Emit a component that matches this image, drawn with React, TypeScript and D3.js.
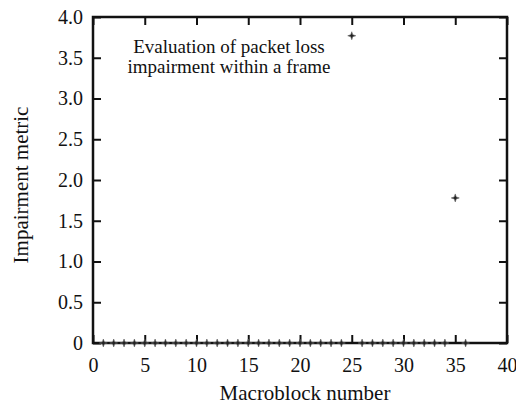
import { useEffect, useRef } from 'react'
import * as d3 from 'd3'

// macroblock index and impairment metric
const macroblocks = [1, 2, 3, 4, 5, 6, 7, 8, 9, 10, 11, 12, 13, 14, 15, 16, 17, 18, 19, 20, 21, 22, 23, 24, 25, 26, 27, 28, 29, 30, 31, 32, 33, 34, 35, 36]
const impairment = [0, 0, 0, 0, 0, 0, 0, 0, 0, 0, 0, 0, 0, 0, 0, 0, 0, 0, 0, 0, 0, 0, 0, 0, 3.77, 0, 0, 0, 0, 0, 0, 0, 0, 0, 1.78, 0]
const xTicks = [0, 5, 10, 15, 20, 25, 30, 35, 40]
const yTicks = [0, 0.5, 1.0, 1.5, 2.0, 2.5, 3.0, 3.5, 4.0]
const noteLines = ['Evaluation of packet loss', 'impairment within a frame']

const W = 516
const H = 407
const FONT = '"Liberation Serif", "Times New Roman", serif'

const App = () => {
  const ref = useRef<SVGSVGElement | null>(null)

  useEffect(() => {
    const svg = d3.select(ref.current)
    svg.selectAll('*').remove()

    const margin = { top: 17, right: 9, bottom: 64, left: 93 }
    const width = W - margin.left - margin.right
    const height = H - margin.top - margin.bottom

    const g = svg.append('g').attr('transform', `translate(${margin.left},${margin.top})`)

    const x = d3.scaleLinear().domain([0, 40]).range([0, width])
    const y = d3.scaleLinear().domain([0, 4]).range([height, 0])

    // frame
    g.append('rect')
      .attr('width', width)
      .attr('height', height)
      .attr('fill', 'none')
      .attr('stroke', '#111')
      .attr('stroke-width', 2.5)

    // bottom axis, ticks point inward
    const xb = g
      .append('g')
      .attr('transform', `translate(0,${height})`)
      .call(d3.axisBottom(x).tickValues(xTicks).tickSizeInner(-8).tickSizeOuter(0).tickPadding(15).tickFormat(d3.format('d')))
    xb.select('.domain').remove()
    xb.selectAll('line').attr('stroke', '#111').attr('stroke-width', 2)
    xb.selectAll('text').attr('font-family', FONT).attr('font-size', 20).attr('fill', '#111')

    const xt = g.append('g').call(d3.axisTop(x).tickValues(xTicks).tickSizeInner(-8).tickSizeOuter(0).tickFormat(() => ''))
    xt.select('.domain').remove()
    xt.selectAll('line').attr('stroke', '#111').attr('stroke-width', 2)

    const yl = g.append('g').call(
      d3
        .axisLeft(y)
        .tickValues(yTicks)
        .tickSizeInner(-8)
        .tickSizeOuter(0)
        .tickPadding(10)
        .tickFormat((d) => (+d === 0 ? '0' : d3.format('.1f')(+d)))
    )
    yl.select('.domain').remove()
    yl.selectAll('line').attr('stroke', '#111').attr('stroke-width', 2)
    yl.selectAll('text').attr('font-family', FONT).attr('font-size', 20).attr('fill', '#111')

    const yr = g
      .append('g')
      .attr('transform', `translate(${width},0)`)
      .call(d3.axisRight(y).tickValues(yTicks).tickSizeInner(-8).tickSizeOuter(0).tickFormat(() => ''))
    yr.select('.domain').remove()
    yr.selectAll('line').attr('stroke', '#111').attr('stroke-width', 2)

    // markers: small four-point stars
    const star = 'M0,-4 L1,-1 L4,0 L1,1 L0,4 L-1,1 L-4,0 L-1,-1 Z'
    g.selectAll('.pt')
      .data(macroblocks)
      .enter()
      .append('path')
      .attr('class', 'pt')
      .attr('d', star)
      .attr('transform', (d, i) => `translate(${x(d)},${y(impairment[i])})`)
      .attr('fill', '#222')
      .attr('stroke', '#666')
      .attr('stroke-width', 0.6)

    // annotation
    const note = g
      .append('text')
      .attr('font-family', FONT)
      .attr('font-size', 19)
      .attr('fill', '#111')
      .attr('text-anchor', 'middle')
    noteLines.forEach((t, i) => {
      note
        .append('tspan')
        .attr('x', 229 - margin.left)
        .attr('y', 36 + i * 20)
        .text(t)
    })

    // axis labels
    svg
      .append('text')
      .attr('x', 305)
      .attr('y', 400)
      .attr('text-anchor', 'middle')
      .attr('font-family', FONT)
      .attr('font-size', 21)
      .attr('fill', '#111')
      .text('Macroblock number')

    svg
      .append('text')
      .attr('transform', `translate(28,185) rotate(-90)`)
      .attr('text-anchor', 'middle')
      .attr('font-family', FONT)
      .attr('font-size', 21)
      .attr('fill', '#111')
      .text('Impairment metric')
  }, [])

  return (
    <svg
      ref={ref}
      width={W}
      height={H}
      style={{ position: 'absolute', left: 0, top: 0, background: '#fff' }}
    />
  )
}

export default App
